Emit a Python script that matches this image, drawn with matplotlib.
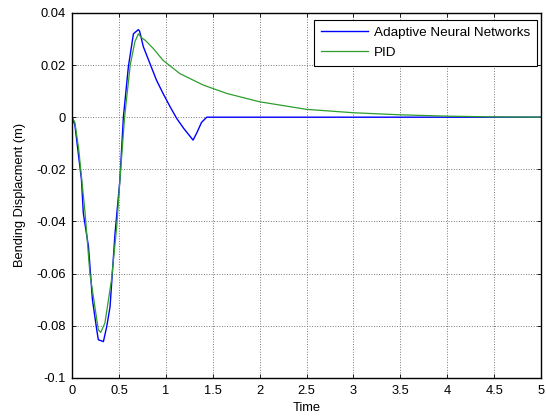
import matplotlib
matplotlib.use("Agg")
import matplotlib.pyplot as plt

plt.rcParams['font.family'] = ['Liberation Sans', 'DejaVu Sans']

# Adaptive Neural Networks
t_ann = [0, 0.03, 0.06, 0.10, 0.12, 0.175, 0.217, 0.263, 0.28, 0.334, 0.37, 0.405,
         0.458, 0.51, 0.547, 0.60, 0.654, 0.707, 0.72, 0.76, 0.83, 0.90, 0.97,
         1.045, 1.116, 1.19, 1.29, 1.33, 1.38, 1.436, 5.0]
y_ann = [0, -0.003, -0.012, -0.024, -0.0369, -0.0497, -0.070, -0.0816, -0.0854,
         -0.0861, -0.0803, -0.0727, -0.0446, -0.0241, 0.0, 0.0193, 0.032, 0.0336,
         0.033, 0.027, 0.0206, 0.0142, 0.0091, 0.0040, -0.0005, -0.0043, -0.0088,
         -0.006, -0.002, 0.0, 0.0]

# PID
t_pid = [0, 0.03, 0.07, 0.139, 0.19, 0.28, 0.305, 0.35, 0.42, 0.476, 0.51, 0.56,
         0.62, 0.67, 0.707, 0.74, 0.78, 0.867, 0.97, 1.15, 1.40, 1.65, 2.0, 2.5,
         3.0, 3.5, 4.0, 4.5, 5.0]
y_pid = [0, -0.002, -0.012, -0.0369, -0.060, -0.0816, -0.0826, -0.079, -0.0625,
         -0.042, -0.0241, 0.0, 0.02, 0.029, 0.032, 0.0305, 0.0295, 0.0263, 0.0218,
         0.0167, 0.0123, 0.0091, 0.0059, 0.003, 0.0017, 0.0009, 0.0004, 0.0001, 0.0]

xticks = [0, 0.5, 1, 1.5, 2, 2.5, 3, 3.5, 4, 4.5, 5]
xticklabels = ['0', '0.5', '1', '1.5', '2', '2.5', '3', '3.5', '4', '4.5', '5']
yticks = [-0.1, -0.08, -0.06, -0.04, -0.02, 0, 0.02, 0.04]
yticklabels = ['-0.1', '-0.08', '-0.06', '-0.04', '-0.02', '0', '0.02', '0.04']

fig = plt.figure(figsize=(5.46, 4.17), dpi=100)
ax = fig.add_axes([0.132, 0.094, 0.859, 0.875])

ax.plot(t_ann, y_ann, color='#0000ff', lw=1.0, label='Adaptive Neural Networks')
ax.plot(t_pid, y_pid, color='#2e9e2e', lw=0.9, label='PID')

ax.set_xlim(0, 5)
ax.set_ylim(-0.1, 0.04)
ax.set_xticks(xticks)
ax.set_xticklabels(xticklabels)
ax.set_yticks(yticks)
ax.set_yticklabels(yticklabels)
ax.tick_params(direction='in', top=True, right=True, labelsize=9.3, length=3, width=0.6)
ax.tick_params(axis='x', pad=5.5)
ax.tick_params(axis='y', pad=4.5)
ax.grid(True, linestyle=':', color='#777777', linewidth=0.7)
for s in ax.spines.values():
    s.set_linewidth(1.0)
    s.set_color('black')

ax.set_xlabel('Time', fontsize=9.3)
ax.xaxis.set_label_coords(0.5, -0.066)
ax.set_ylabel('Bending Displacment (m)', fontsize=9.3)
ax.yaxis.set_label_coords(-0.11, 0.5)
ax.yaxis.label.set_va('center')

leg = ax.legend(loc='upper right', bbox_to_anchor=(0.9915, 0.981), fontsize=9.7,
                fancybox=False, framealpha=1, edgecolor='black', handlelength=3.5,
                handletextpad=0.45, borderaxespad=0.0, borderpad=0.5,
                labelspacing=0.55)
leg.get_frame().set_linewidth(0.8)

fig.savefig('out.png', dpi=100)
